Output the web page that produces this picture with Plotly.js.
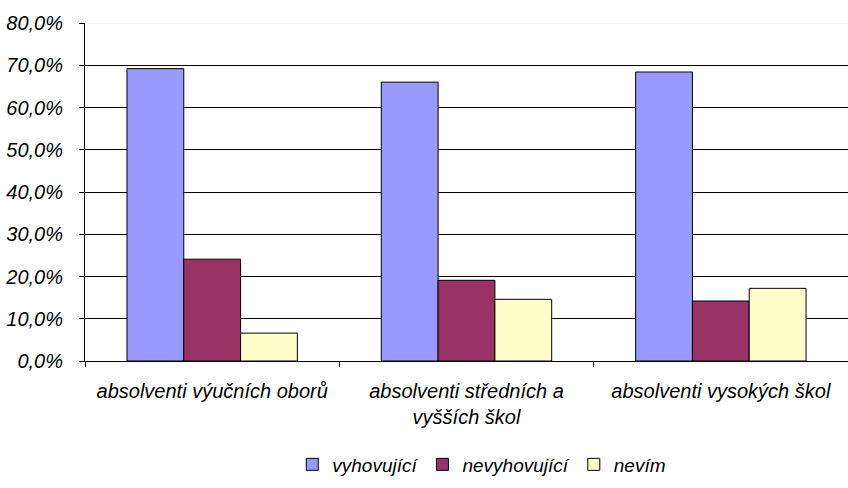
<!DOCTYPE html>
<html><head><meta charset="utf-8">
<script src="https://cdn.plot.ly/plotly-3.0.1.min.js"></script>
<style>html,body{margin:0;padding:0;background:#fff}#c{width:848px;height:488px}</style>
</head><body><div id="c"></div>
<script>
const categories = ["absolventi výučních oborů", "absolventi středních a<br>vyšších škol", "absolventi vysokých škol"];
const seriesNames = ["vyhovující", "nevyhovující", "nevím"];
const vyhovujici = [0.692, 0.660, 0.684];
const nevyhovujici = [0.241, 0.191, 0.142];
const nevim = [0.066, 0.146, 0.172];
const colors = ["#9999FF", "#993366", "#FFFFCC"];
const vals = [vyhovujici, nevyhovujici, nevim];
const yMax = 0.8;
const fam = "Liberation Sans, Arial, sans-serif";
const traces = vals.map((v, i) => ({
  type: "bar", x: categories, y: v, name: seriesNames[i],
  marker: {color: colors[i], line: {color: "#000", width: 1}},
  hoverinfo: "skip"
}));
const layout = {
  width: 848, height: 488,
  margin: {l: 85, r: 0, t: 23, b: 127},
  separators: ", ",
  barmode: "group", bargap: 0.33, bargroupgap: 0,
  font: {family: fam, size: 20, color: "#000"},
  paper_bgcolor: "#fff", plot_bgcolor: "#fff",
  showlegend: true,
  legend: {orientation: "h", x: 0.52, xanchor: "center", y: -0.25, yanchor: "top",
           font: {family: fam, size: 19}, itemwidth: 30, traceorder: "normal"},
  xaxis: {type: "category", showline: true, linecolor: "#000", linewidth: 1,
          ticks: "outside", tickson: "boundaries", ticklen: 5, tickcolor: "#000",
          showgrid: false, tickfont: {family: fam, size: 20}, ticklabelstandoff: 12},
  yaxis: {range: [0, yMax], dtick: 0.1, tickformat: ".1%", showline: true, linecolor: "#000",
          linewidth: 1, ticks: "outside", ticklen: 5, tickcolor: "#000",
          showgrid: true, gridcolor: "#000", gridwidth: 1, zeroline: false,
          tickfont: {family: fam, size: 20}, ticklabelstandoff: 12},
  shapes: [{type: "line", xref: "x domain", yref: "y", x0: 0.002, x1: 1, y0: yMax, y1: yMax,
            line: {color: "#e0e0e0", width: 1.2}, layer: "above"}]
};
Plotly.newPlot("c", traces, layout, {displayModeBar: false, staticPlot: true}).then(() => {
  document.querySelectorAll(".xtick text, .ytick text, .legendtext").forEach(t => t.style.fontStyle = "italic");
});
</script></body></html>
